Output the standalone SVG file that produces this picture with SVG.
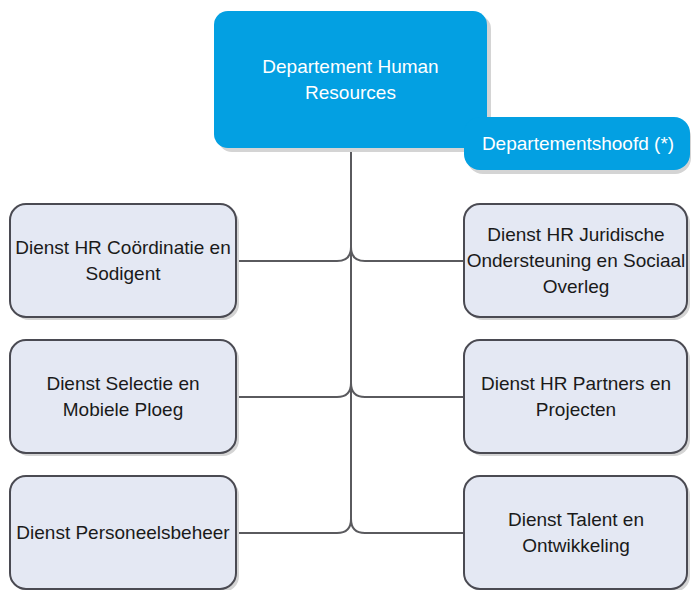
<svg xmlns="http://www.w3.org/2000/svg" width="691" height="590" viewBox="0 0 691 590">
<style>
.sh{fill:#d4d4d4}
.top{fill:#03a0e2}
.node{fill:#e4e8f3;stroke:#4a4a52;stroke-width:2}
.t{font-family:"Liberation Sans",Arial,sans-serif;font-size:19px;text-anchor:middle;fill:#1a1a1a}
.tw{font-family:"Liberation Sans",Arial,sans-serif;font-size:19px;text-anchor:middle;fill:#ffffff}
.c{fill:none;stroke:#5a5a5e;stroke-width:2}
</style>
<rect width="691" height="590" fill="#ffffff"/>
<g id="connectors">
<path class="c" d="M351,148 V524"/>
<path class="c" d="M236,261 H337 Q351,261 351,247 M464,261 H365 Q351,261 351,247"/>
<path class="c" d="M236,397 H337 Q351,397 351,383 M464,397 H365 Q351,397 351,383"/>
<path class="c" d="M236,533 H337 Q351,533 351,519 M464,533 H365 Q351,533 351,519"/>
</g>
<g id="n-hr">
<rect class="sh" x="218" y="15" width="273" height="137" rx="14"/>
<rect class="top" x="214" y="11" width="273" height="137" rx="14"/>
<text class="tw" x="350.5" y="73">Departement Human</text>
<text class="tw" x="350.5" y="99">Resources</text>
</g>
<g id="n-head">
<rect class="sh" x="467" y="121" width="224" height="53" rx="16"/>
<rect class="top" x="464" y="117" width="226" height="53" rx="16"/>
<text class="tw" x="578" y="150">Departementshoofd (*)</text>
</g>
<g id="n-coord">
<rect class="sh" x="13" y="207" width="226" height="113" rx="16"/>
<rect class="node" x="10" y="204" width="226" height="113" rx="16"/>
<text class="t" x="123" y="254">Dienst HR Coördinatie en</text>
<text class="t" x="123" y="280">Sodigent</text>
</g>
<g id="n-selectie">
<rect class="sh" x="13" y="343" width="226" height="113" rx="16"/>
<rect class="node" x="10" y="340" width="226" height="113" rx="16"/>
<text class="t" x="123" y="390">Dienst Selectie en</text>
<text class="t" x="123" y="416">Mobiele Ploeg</text>
</g>
<g id="n-personeel">
<rect class="sh" x="13" y="479" width="226" height="113" rx="16"/>
<rect class="node" x="10" y="476" width="226" height="113" rx="16"/>
<text class="t" x="123" y="539">Dienst Personeelsbeheer</text>
</g>
<g id="n-juridisch">
<rect class="sh" x="467" y="207" width="223" height="113" rx="16"/>
<rect class="node" x="464" y="204" width="223" height="113" rx="16"/>
<text class="t" x="576" y="241">Dienst HR Juridische</text>
<text class="t" x="576" y="267">Ondersteuning en Sociaal</text>
<text class="t" x="576" y="293">Overleg</text>
</g>
<g id="n-partners">
<rect class="sh" x="467" y="343" width="223" height="113" rx="16"/>
<rect class="node" x="464" y="340" width="223" height="113" rx="16"/>
<text class="t" x="576" y="390">Dienst HR Partners en</text>
<text class="t" x="576" y="416">Projecten</text>
</g>
<g id="n-talent">
<rect class="sh" x="467" y="479" width="223" height="113" rx="16"/>
<rect class="node" x="464" y="476" width="223" height="113" rx="16"/>
<text class="t" x="576" y="526">Dienst Talent en</text>
<text class="t" x="576" y="552">Ontwikkeling</text>
</g>
</svg>
